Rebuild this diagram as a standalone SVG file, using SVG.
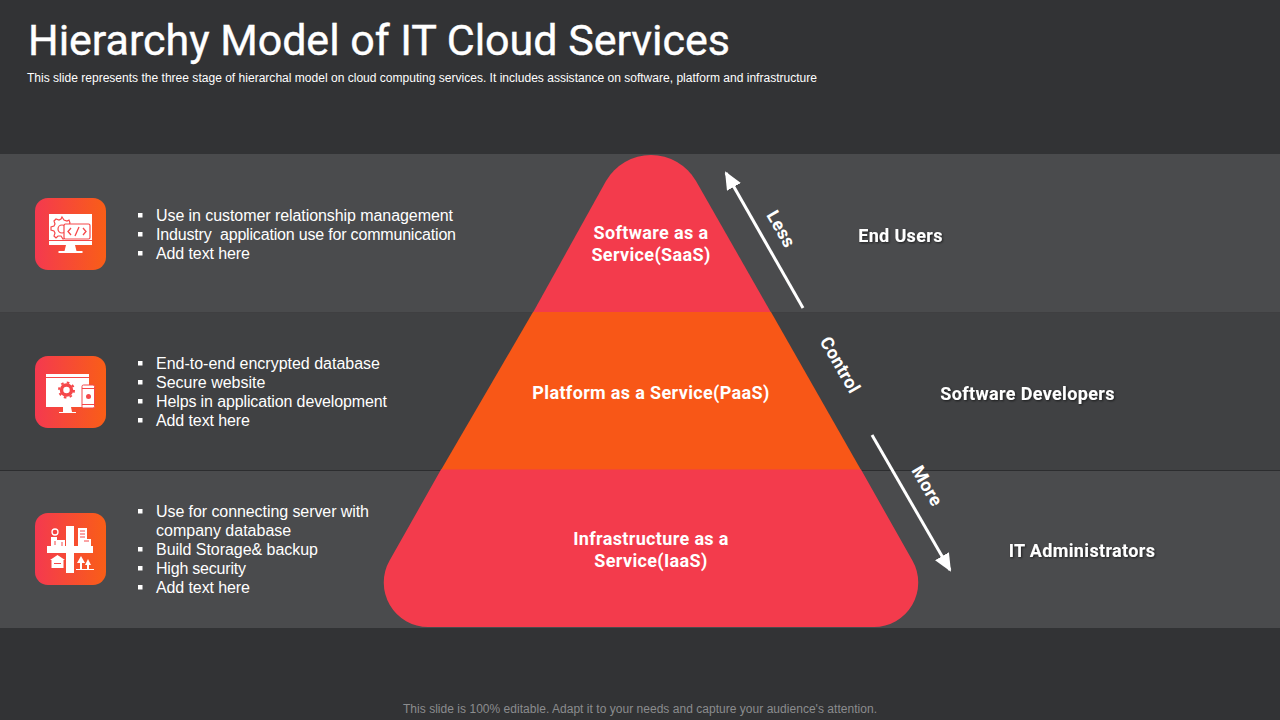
<svg xmlns="http://www.w3.org/2000/svg" width="1280" height="720" viewBox="0 0 1280 720">
<style>
.din{font-family:"Roboto","Liberation Sans",sans-serif;fill:#fff}
.b{font-family:"Liberation Sans",Arial,sans-serif;font-size:16px;fill:#fff}
.lab{font-size:18px;font-weight:700;text-anchor:middle;letter-spacing:.35px}
.rt{font-size:18px;font-weight:700;text-anchor:middle;letter-spacing:.35px;filter:url(#sh)}
.sq{fill:#fff}
.ic{fill:#fff}
.conn{stroke:#fff;stroke-width:3;fill:none;marker-end:url(#ah)}
</style>
<defs>
<linearGradient id="g" x1="0" y1="0" x2="1" y2="0"><stop offset="0" stop-color="#f4394f"/><stop offset="1" stop-color="#f95e17"/></linearGradient>
<filter id="sh" x="-10%" y="-30%" width="120%" height="170%"><feDropShadow dx="1" dy="1" stdDeviation="0.8" flood-color="#000" flood-opacity="0.6"/></filter>
<marker id="ah" markerUnits="userSpaceOnUse" viewBox="0 0 18 16" refX="16" refY="8" markerWidth="18" markerHeight="16" orient="auto"><path d="M0,0L18,8L0,16Z" fill="#fff"/></marker>
</defs>
<rect width="1280" height="720" fill="#323335"/>
<g id="bands">
<rect x="0" y="154" width="1280" height="158.500" fill="#4a4b4d"/>
<rect x="0" y="312.500" width="1280" height="158" fill="#404143"/>
<rect x="0" y="470" width="1280" height="158" fill="#4a4b4d"/>
<line x1="0" y1="470.500" x2="1280" y2="470.500" stroke="#2c2d2f" stroke-width="1"/>
</g>
<text class="din" x="28" y="55" font-size="43" font-weight="400" stroke="#fff" stroke-width=".4" textLength="702" lengthAdjust="spacing">Hierarchy Model of IT Cloud Services</text>
<text x="27" y="81.500" font-family="Liberation Sans,Arial,sans-serif" font-size="12" fill="#fff" textLength="790" lengthAdjust="spacingAndGlyphs">This slide represents the three stage of hierarchal model on cloud computing services. It includes assistance on software, platform and infrastructure</text>

<g id="pyramid-saas">
<path d="M533,312.500L606,181A52,52 0 0 1 696,181L771,312.500Z" fill="#f33b4c"/>
<text class="din lab" x="651" y="238.500">Software as a</text>
<text class="din lab" x="651" y="260.500">Service(SaaS)</text>
</g>
<g id="pyramid-paas">
<path d="M533,312L771,312L861,470L441,470Z" fill="#f85717"/>
<text class="din lab" x="651" y="398.500">Platform as a Service(PaaS)</text>
</g>
<g id="pyramid-iaas">
<path d="M441,469.500L861,469.500L912.400,560.600A44.400,44.400 0 0 1 873.600,627L428.400,627A44.400,44.400 0 0 1 389.600,560.600Z" fill="#f33b4c"/>
<text class="din lab" x="651" y="545">Infrastructure as a</text>
<text class="din lab" x="651" y="567">Service(IaaS)</text>
</g>

<g id="connectors">
<line class="conn" x1="803" y1="308" x2="726" y2="173"/>
<line class="conn" x1="872" y1="435" x2="950" y2="570"/>
</g>
<text class="din lab" transform="translate(781,229) rotate(60)" y="6">Less</text>
<text class="din lab" transform="translate(840,365) rotate(60)" y="6">Control</text>
<text class="din lab" transform="translate(927,486) rotate(60)" y="6">More</text>

<g id="label-end-users"><text class="din rt" x="900.500" y="242">End Users</text></g>
<g id="label-developers"><text class="din rt" x="1027.500" y="400">Software Developers</text></g>
<g id="label-admins"><text class="din rt" x="1082" y="557">IT Administrators</text></g>

<g id="row1-icon">
<rect x="35" y="198" width="71" height="72" rx="13" fill="url(#g)"/>
<rect class="ic" x="49" y="214" width="43" height="31"/>
<path class="ic" d="M66,245h9l1.500,6h6v2H58.500v-2h6Z"/>
<rect x="49" y="240" width="43" height="1" fill="#f5484a"/>
<path d="M62,217l2,3 3,1 2-1 1,3-1,2 1,3 3,2-2,3-3,0-2,2 0,3-3,1-2-3-3,0-2,2-2-2 1-3-1-2-3-1 0-3 3-1 1-2-1-3 2-2 3,1 2-1Z" fill="none" stroke="#f5484a" stroke-width="1.200"/>
<circle cx="62" cy="229" r="4" fill="none" stroke="#f5484a" stroke-width="1.200"/>
<rect x="64" y="224" width="26" height="15" rx="1.500" fill="#fff" stroke="#f5484a" stroke-width="1.200"/>
<path d="M71,228l-3,3.500 3,3.500M83,228l3,3.500-3,3.500M79,227l-4,9" fill="none" stroke="#f5484a" stroke-width="1.300"/>
</g>
<g id="row1-text">
<text class="b" x="156" y="221" textLength="297">Use in customer relationship management</text>
<text class="b" x="156" y="240" textLength="300" xml:space="preserve">Industry  application use for communication</text>
<text class="b" x="156" y="259" textLength="94">Add text here</text>
<rect class="sq" x="138" y="213" width="4.500" height="4.500"/><rect class="sq" x="138" y="232" width="4.500" height="4.500"/><rect class="sq" x="138" y="251" width="4.500" height="4.500"/>
</g>

<g id="row2-icon">
<rect x="35" y="356" width="71" height="72" rx="13" fill="url(#g)"/>
<rect class="ic" x="46" y="374" width="43" height="33"/>
<rect x="46" y="377" width="43" height="1" fill="#f5484a"/>
<path class="ic" d="M63,407h8l1,5h4v1H59v-1h4Z"/>
<circle cx="66.500" cy="390" r="5" fill="none" stroke="#f5484a" stroke-width="3.500"/>
<circle cx="66.500" cy="390" r="7.500" fill="none" stroke="#f5484a" stroke-width="2" stroke-dasharray="2.600 3.300"/>
<rect x="82" y="385" width="12.500" height="23" rx="1.500" fill="#fff" stroke="#f5484a" stroke-width="1"/>
<rect x="82" y="388" width="12.500" height="1" fill="#f5484a"/>
<rect x="82" y="404" width="12.500" height="1" fill="#f5484a"/>
<circle cx="88.500" cy="396.500" r="2.500" fill="#f5484a"/>
</g>
<g id="row2-text">
<text class="b" x="156" y="369" textLength="224">End-to-end encrypted database</text>
<text class="b" x="156" y="388">Secure website</text>
<text class="b" x="156" y="407" textLength="231">Helps in application development</text>
<text class="b" x="156" y="426" textLength="94">Add text here</text>
<rect class="sq" x="138" y="361" width="4.500" height="4.500"/><rect class="sq" x="138" y="380" width="4.500" height="4.500"/><rect class="sq" x="138" y="399" width="4.500" height="4.500"/><rect class="sq" x="138" y="418" width="4.500" height="4.500"/>
</g>

<g id="row3-icon">
<rect x="35" y="513" width="71" height="72" rx="13" fill="url(#g)"/>
<rect class="ic" x="66" y="526" width="8" height="47"/>
<rect class="ic" x="47" y="546" width="46" height="7"/>
<path d="M51,537h6v3h3v6H51Z" fill="#fff"/>
<rect x="60" y="540" width="5" height="6" fill="#fff"/>
<path d="M78,528h9v11h4v7H78Z" fill="#fff"/>
<path d="M80,531h5M80,534h5M80,537h5M55,541v4M62,542v4M84,541h5" stroke="#f5484a" stroke-width="1" fill="none"/>
<circle cx="55" cy="532" r="3" fill="none" stroke="#fff" stroke-width="1.300"/>
<path class="ic" d="M57.500,555l7.500,5h-1.500v8H51.500v-8H50Z"/>
<rect x="54" y="563" width="7" height="1" fill="#f5484a"/>
<path class="ic" d="M81,556l4,7h-3v6h-2v-6h-3ZM88,559l3,6h-2v4h-2v-4h-2Z"/>
<rect class="ic" x="76" y="569" width="18" height="1"/>
</g>
<g id="row3-text">
<text class="b" x="156" y="517" textLength="213">Use for connecting server with</text>
<text class="b" x="156" y="536">company database</text>
<text class="b" x="156" y="555" textLength="162">Build Storage&amp; backup</text>
<text class="b" x="156" y="574" textLength="90">High security</text>
<text class="b" x="156" y="593" textLength="94">Add text here</text>
<rect class="sq" x="138" y="509" width="4.500" height="4.500"/><rect class="sq" x="138" y="547" width="4.500" height="4.500"/><rect class="sq" x="138" y="566" width="4.500" height="4.500"/><rect class="sq" x="138" y="585" width="4.500" height="4.500"/>
</g>

<text x="640" y="713" text-anchor="middle" font-family="Liberation Sans,Arial,sans-serif" font-size="12" fill="#8b8c8e" textLength="474">This slide is 100% editable. Adapt it to your needs and capture your audience's attention.</text>
</svg>
